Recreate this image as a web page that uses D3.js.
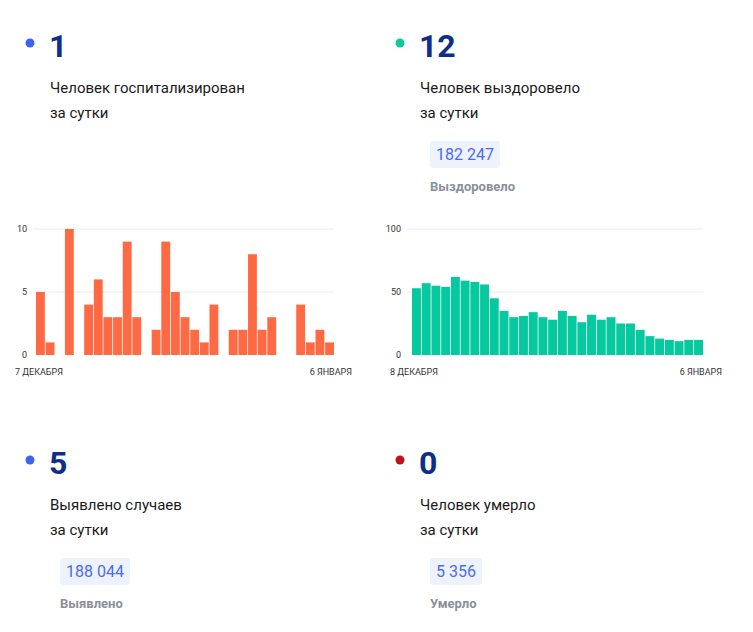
<!DOCTYPE html><html><head><meta charset="utf-8">
<script src="https://cdn.jsdelivr.net/npm/d3@7"></script>
<style>body{margin:0;background:#fff;font-family:Roboto,sans-serif}</style></head><body>
<svg id="c" width="753" height="632"></svg>
<script>
const hospValues=[5,1,0,10,0,4,6,3,3,9,3,0,2,9,5,3,2,1,4,0,2,2,8,2,3,0,0,4,1,2,1];
const recValues=[53,57,55,54,62,59,58,56,45,35,30,31,34,30,28,35,31,26,32,28,30,25,25,20,15,13,12,11,12,12];
const hospTicks=[0,5,10], recTicks=[0,50,100];
const hospDates=["7 ДЕКАБРЯ","6 ЯНВАРЯ"], recDates=["8 ДЕКАБРЯ","6 ЯНВАРЯ"];
const cards=[
 {x:30,y:43,dot:"#3a63f0",num:"1",l1:"Человек госпитализирован",l2:"за сутки"},
 {x:400,y:43,dot:"#0fc7a0",num:"12",l1:"Человек выздоровело",l2:"за сутки",badge:"182 247",sub:"Выздоровело"},
 {x:30,y:460,dot:"#3a63f0",num:"5",l1:"Выявлено случаев",l2:"за сутки",badge:"188 044",sub:"Выявлено"},
 {x:400,y:460,dot:"#c0121c",num:"0",l1:"Человек умерло",l2:"за сутки",badge:"5 356",sub:"Умерло"}];
const svg=d3.select("#c");
cards.forEach(c=>{
 const g=svg.append("g");
 g.append("circle").attr("cx",c.x).attr("cy",c.y).attr("r",4.5).attr("fill",c.dot);
 g.append("text").attr("x",c.x+19).attr("y",c.y+14).attr("font-size",32).attr("font-weight",700).attr("fill","#0d2f8a").text(c.num);
 g.append("text").attr("x",c.x+20).attr("y",c.y+50).attr("font-size",15).attr("fill","#1a1a1a").text(c.l1);
 g.append("text").attr("x",c.x+20).attr("y",c.y+75).attr("font-size",15).attr("fill","#1a1a1a").text(c.l2);
 if(c.badge){
  const t=g.append("text").attr("x",c.x+36).attr("y",c.y+117).attr("font-size",16).attr("fill","#4a6cf0").text(c.badge);
  const w=t.node().getComputedTextLength();
  g.insert("rect","text").attr("x",c.x+30).attr("y",c.y+98).attr("width",w+12).attr("height",27).attr("rx",3).attr("fill","#eef2fd");
  g.append("text").attr("x",c.x+30).attr("y",c.y+148).attr("font-size",13).attr("font-weight",700).attr("fill","#8a909a").text(c.sub);
 }
});
function chart(vals,ticks,dates,max,x0,x1,gx0,color,dx0,dx1){
 const g=svg.append("g");
 const y=d3.scaleLinear().domain([0,max]).range([355,229]);
 const x=d3.scaleBand().domain(d3.range(vals.length)).range([x0,x1]).paddingInner(0.08);
 ticks.forEach(t=>{
  if(t>0) g.append("line").attr("x1",gx0).attr("x2",x1).attr("y1",y(t)).attr("y2",y(t)).attr("stroke","#ececec");
  g.append("text").attr("x",gx0-6).attr("y",y(t)+3).attr("text-anchor","end").attr("font-size",9).attr("fill","#333").text(t);
 });
 g.selectAll("rect").data(vals).join("rect").attr("x",(d,i)=>x(i)).attr("width",x.bandwidth()).attr("y",d=>y(d)).attr("height",d=>355-y(d)).attr("fill",color);
 g.append("text").attr("x",dx0).attr("y",375).attr("font-size",9).attr("fill","#333").text(dates[0]);
 g.append("text").attr("x",dx1).attr("y",375).attr("font-size",9).attr("text-anchor","end").attr("fill","#333").text(dates[1]);
}
chart(hospValues,hospTicks,hospDates,10,36,334,33,"#ff6a45",15,352);
chart(recValues,recTicks,recDates,100,412,703,407,"#06c9a0",390,722);
</script></body></html>
